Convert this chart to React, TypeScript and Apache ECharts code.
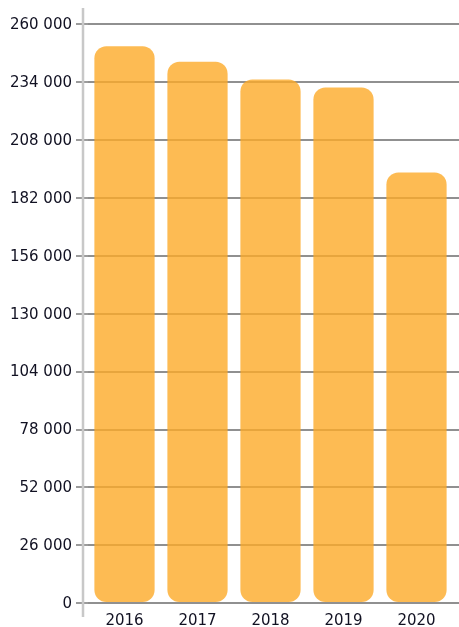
import React, { useEffect, useRef } from "react";
import * as echarts from "echarts";

const categories = ["2016", "2017", "2018", "2019", "2020"];
const values = [250000, 243000, 235000, 231400, 193200];
const yMin = 0;
const yMax = 260000;
const yStep = 26000;

const fmt = (v: number) => String(v).replace(/\B(?=(\d{3})+(?!\d))/g, " ");

export default function App() {
  const ref = useRef<HTMLDivElement>(null);
  useEffect(() => {
    if (!ref.current) return;
    const chart = echarts.init(ref.current, undefined, { renderer: "svg" });
    const font = "DejaVu Sans";
    chart.setOption({
      animation: false,
      grid: [
        { left: 88, right: 6, top: 24, bottom: 24 },
        { left: 88, right: 0, top: 24, bottom: 24 },
      ],
      xAxis: [
        {
          type: "category",
          gridIndex: 0,
          data: categories,
          axisLine: { show: false },
          axisTick: { show: false },
          axisLabel: { color: "#111122", fontFamily: font, fontSize: 15, margin: 10 },
        },
        { type: "value", gridIndex: 1, show: false, min: 0, max: 1 },
      ],
      yAxis: [
        {
          type: "value",
          gridIndex: 0,
          min: yMin,
          max: yMax,
          interval: yStep,
          axisLine: { show: false },
          axisTick: { show: false },
          axisLabel: { show: false },
          splitLine: { show: false },
        },
        {
          type: "value",
          gridIndex: 1,
          min: yMin,
          max: yMax,
          interval: yStep,
          axisLine: { show: false },
          axisTick: { show: true, length: 12, lineStyle: { color: "#909090", width: 1.8 } },
          axisLabel: {
            color: "#111122",
            fontFamily: font,
            fontSize: 15,
            margin: 16,
            formatter: (v: number) => fmt(v),
          },
          splitLine: { show: true, lineStyle: { color: "#909090", width: 1.8 } },
        },
      ],
      graphic: [
        {
          type: "line",
          shape: { x1: 83, y1: 8, x2: 83, y2: 617 },
          style: { stroke: "#c8c8c8", lineWidth: 2.5 },
          z: 1,
        },
      ],
      series: [
        {
          type: "bar",
          xAxisIndex: 0,
          yAxisIndex: 0,
          data: values,
          barCategoryGap: "17.5%",
          itemStyle: { color: "rgba(252,170,40,0.8)", borderRadius: 12 },
          z: 3,
        },
      ],
    });
    return () => chart.dispose();
  }, []);
  return (
    <div
      ref={ref}
      style={{ position: "fixed", left: 0, top: 0, width: 459, height: 627 }}
    />
  );
}
